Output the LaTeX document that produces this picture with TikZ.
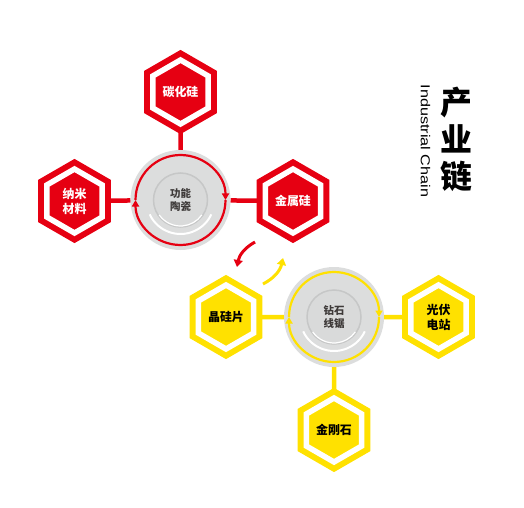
\documentclass[tikz,border=0pt]{standalone}
\usepackage{fontspec}
\newfontfamily\cjk{Noto Sans CJK SC}
\newfontfamily\latinsans{Liberation Sans}
\usetikzlibrary{shapes.geometric,arrows.meta,backgrounds}
\definecolor{chainred}{HTML}{E60012}
\definecolor{chainyellow}{HTML}{FFE100}
\definecolor{diskgray}{HTML}{DCDDDD}
\definecolor{innergray}{HTML}{D9DADA}
\definecolor{rimgray}{HTML}{C6C7C7}
\definecolor{hubtext}{HTML}{3E3A39}

\begin{document}
\begin{tikzpicture}[
x=1bp,y=1bp,
hexa/.style={
  regular polygon,
  regular polygon sides=6,
  shape border rotate=30,
  minimum size=64bp,
  inner sep=0pt,
  outer sep=0pt,
  fill=#1,
  draw=#1,
  double=white,
  line width=6bp,
  double distance=5.5bp,
  font=\cjk\bfseries\fontsize{12}{15}\selectfont,
  align=center
},
hub/.style={
  circle,
  minimum size=100bp,
  inner sep=0pt,
  outer sep=0pt,
  text=hubtext,
  font=\cjk\bfseries\fontsize{10.5}{13.5}\selectfont,
  align=center
},
link/.style={line width=4.5bp,#1},
pics/hubdisc/.style={code={
  \fill[diskgray] (0,0) circle[radius=50];
  \draw[white,line width=2bp] (205:34) arc[start angle=205,end angle=335,radius=34];
  \fill[innergray,draw=rimgray,line width=1.5bp] (0,0) circle[radius=27];
  \draw[white,line width=1.2bp] (215:26) arc[start angle=215,end angle=325,radius=26];
  \draw[#1,line width=2.2bp,-{Triangle[width=7bp,length=6.5bp]}] (180:45) arc[start angle=180,end angle=0,radius=45];
  \draw[#1,line width=2.2bp,-{Triangle[width=7bp,length=6.5bp]}] (0:45) arc[start angle=0,end angle=-180,radius=45];
}}
]
\useasboundingbox (0,0) rectangle (524,-508);

% functional ceramics
\pic at (180.5,-200) {hubdisc=chainred};
\node[hub] (ceram) at (180.5,-200) {功能\\陶瓷};
\node[hexa=chainred,text=white] (sic) at (180.5,-92) {碳化硅};
\node[hexa=chainred,text=white] (nano) at (74.5,-201) {纳米\\材料};
\node[hexa=chainred,text=white] (metal) at (293,-201) {金属硅};

% diamond wire saw
\pic at (334,-317) {hubdisc=chainyellow};
\node[hub] (saw) at (334,-317) {钻石\\线锯};
\node[hexa=chainyellow,text=black] (wafer) at (226,-317) {晶硅片};
\node[hexa=chainyellow,text=black] (pv) at (438.5,-317) {光伏\\电站};
\node[hexa=chainyellow,text=black] (diam) at (334,-430) {金刚石};

\begin{scope}[on background layer]
\draw[link=chainred] (sic) -- (ceram);
\draw[link=chainred] (nano) -- (ceram);
\draw[link=chainred] (metal) -- (ceram);
\draw[link=chainyellow] (wafer) -- (saw);
\draw[link=chainyellow] (pv) -- (saw);
\draw[link=chainyellow] (diam) -- (saw);
\end{scope}

\coordinate (redfrom) at (255,-242);
\coordinate (redto) at (237,-267);
\coordinate (yelfrom) at (263,-284);
\coordinate (yelto) at (283,-258);
\draw[chainred,line width=3bp,-{Triangle[width=9bp,length=7bp]}] (redfrom) to[bend right=25] (redto);
\draw[chainyellow,line width=3bp,-{Triangle[width=9bp,length=7bp]}] (yelfrom) to[bend right=25] (yelto);

\node[font=\cjk\bfseries\fontsize{32}{37}\selectfont,align=center] (title) at (456,-139) {产\\业\\链};
\node[font=\latinsans\fontsize{13}{13}\selectfont,rotate=-90] (subtitle) at (425.5,-141) {\scalebox{1.25}[1]{Industrial Chain}};
\end{tikzpicture}
\end{document}
